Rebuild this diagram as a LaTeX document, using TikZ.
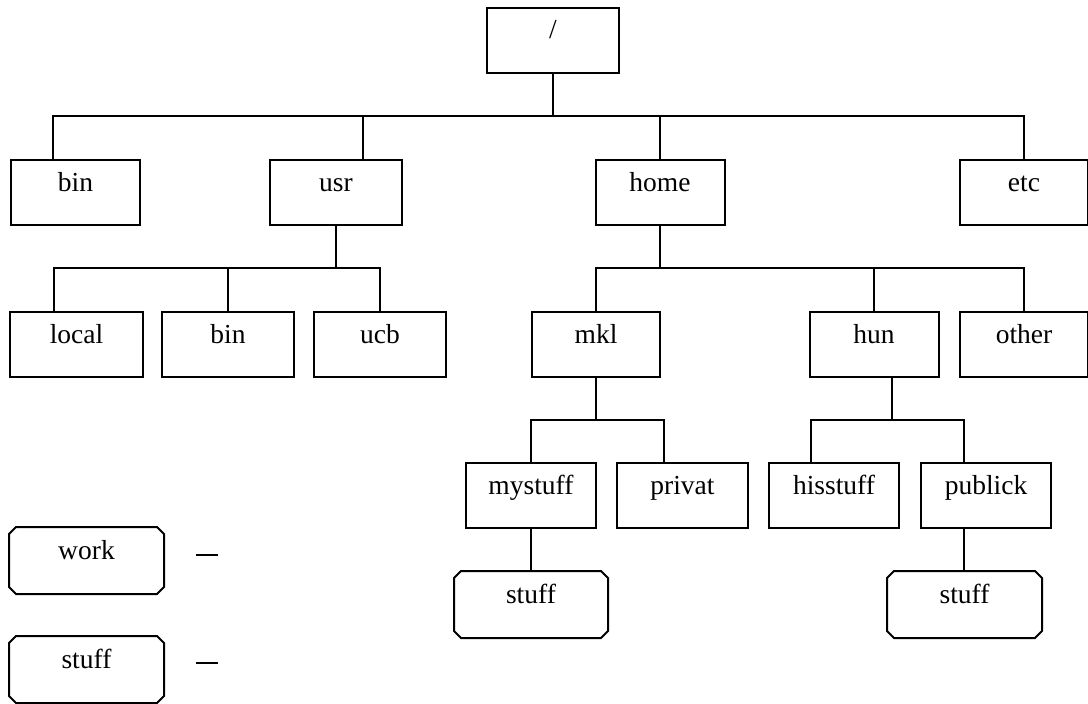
\documentclass[tikz,border=0pt]{standalone}
\usepackage{fontspec}
\setmainfont{Liberation Serif}
\usetikzlibrary{calc}
\newcommand\chamf[1]{%
  \draw ([xshift=7pt]#1.north west) -- ([xshift=-7pt]#1.north east) -- ([yshift=-7pt]#1.north east)
    -- ([yshift=7pt]#1.south east) -- ([xshift=-7pt]#1.south east) -- ([xshift=7pt]#1.south west)
    -- ([yshift=7pt]#1.south west) -- ([yshift=-7pt]#1.north west) -- cycle;}
\begin{document}
\begin{tikzpicture}[x=1pt,y=-1pt,line width=2pt,
  box/.style={draw, rectangle, inner sep=0pt, text height=31pt, text depth=34pt,
    minimum width=130pt, font=\fontsize{27.5}{30}\selectfont},
  cbox/.style={box, draw=none, minimum width=152pt}]
\useasboundingbox (0,0) rectangle (1088,704);
\fill[white] (0,0) rectangle (1088,704);
% nodes
\node[box, minimum width=132pt] (root) at (553,40) {/};
\node[box, minimum width=129pt] (bin1) at (75.5,192.5) {bin};
\node[box, minimum width=132pt] (usr) at (336,192.5) {usr};
\node[box, minimum width=129pt] (home) at (660,192.5) {home};
\node[box, minimum width=128pt] (etc) at (1024,192.5) {etc};
\node[box, minimum width=133pt] (local) at (76.5,344.5) {local};
\node[box, minimum width=132pt] (bin2) at (228,344.5) {bin};
\node[box, minimum width=132pt] (ucb) at (380,344.5) {ucb};
\node[box, minimum width=128pt] (mkl) at (596,344.5) {mkl};
\node[box, minimum width=129pt] (hun) at (874,344.5) {hun};
\node[box, minimum width=128pt] (other) at (1024,344.5) {other};
\node[box, minimum width=130pt] (mystuff) at (531,495.5) {mystuff};
\node[box, minimum width=131pt] (privat) at (682.5,495.5) {privat};
\node[box, minimum width=130pt] (hisstuff) at (834,495.5) {hisstuff};
\node[box, minimum width=130pt] (publick) at (986,495.5) {publick};
\node[cbox] (stuffA) at (531,604.5) {stuff};
\node[cbox, minimum width=153pt] (stuffB) at (964.5,604.5) {stuff};
\node[cbox, minimum width=153pt] (work) at (86.5,560.5) {work};
\node[cbox, minimum width=153pt] (stuffL) at (86.5,669.5) {stuff};
\chamf{stuffA}
\chamf{stuffB}
\chamf{work}
\chamf{stuffL}
% junctions
\coordinate (j0) at (553,116);
\coordinate (j1) at (336,268);
\coordinate (j2) at (660,268);
\coordinate (j3) at (596,420);
\coordinate (j4) at (892,420);
% level 1
\draw (root.south) -- (j0);
\draw ([xshift=-22.5pt]bin1.north) |- (etc.north |- j0) -- (etc.north);
\coordinate (usrtop) at ([xshift=27pt]usr.north);
\draw (usrtop) -- (usrtop |- j0);
\draw (home.north) -- (home.north |- j0);
% usr children
\draw (usr.south) -- (j1);
\draw ([xshift=-22.5pt]local.north) |- (ucb.north |- j1) -- (ucb.north);
\draw (bin2.north) -- (bin2.north |- j1);
% home children
\draw (home.south) -- (j2);
\draw (mkl.north) |- (other.north |- j2) -- (other.north);
\draw (hun.north) -- (hun.north |- j2);
% mkl children
\draw (mkl.south) -- (j3);
\coordinate (pv) at ([xshift=-18.5pt]privat.north);
\draw (mystuff.north) |- (pv |- j3) -- (pv);
\draw (mystuff.south) -- (stuffA.north);
% hun children
\coordinate (hb) at ([xshift=18pt]hun.south);
\draw (hb) -- (j4);
\coordinate (hs) at ([xshift=-23pt]hisstuff.north);
\coordinate (pb) at ([xshift=-22pt]publick.north);
\draw (hs) |- (pb |- j4) -- (pb);
\coordinate (pbs) at ([xshift=-22pt]publick.south);
\draw (pbs) -- (pbs |- stuffB.north);
% legend dashes
\draw ([xshift=32pt,yshift=5.5pt]work.east) -- ++(22,0);
\draw ([xshift=32pt,yshift=6.5pt]stuffL.west -| work.east) -- ++(22,0);
\end{tikzpicture}
\end{document}
